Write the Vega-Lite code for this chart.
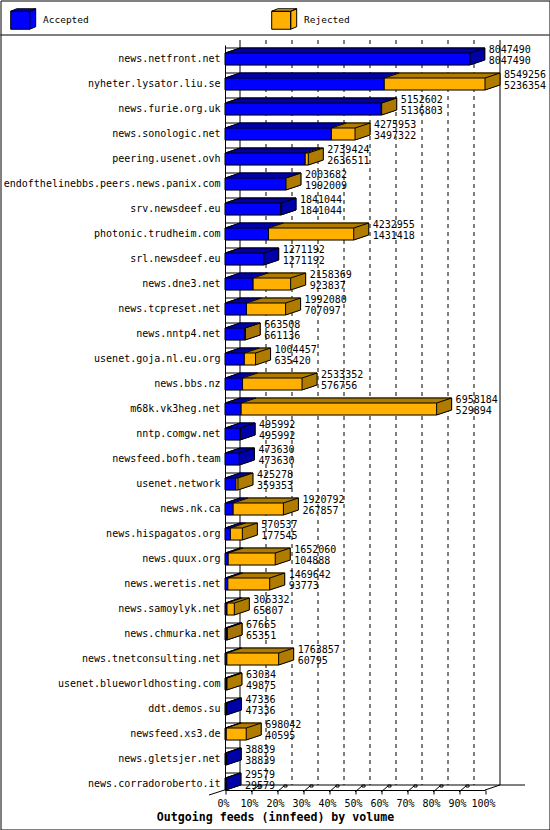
{
  "$schema": "https://vega.github.io/schema/vega-lite/v6.json",
  "width": 549,
  "height": 829,
  "autosize": "none",
  "padding": 0.5,
  "background": "white",
  "config": {"view": {"stroke": "black", "strokeWidth": 1}, "font": "DejaVu Sans Mono"},
  "resolve": {"scale": {"x": "independent", "y": "independent"}},
  "layer": [
    {
      "data": {"values": [
        {"pct": 0}, {"pct": 10}, {"pct": 20}, {"pct": 30}, {"pct": 40}, {"pct": 50},
        {"pct": 60}, {"pct": 70}, {"pct": 80}, {"pct": 90}, {"pct": 100}
      ]},
      "encoding": {
        "x": {"field": "pct", "type": "quantitative",
          "scale": {"domain": [0, 100], "range": [224.5, 484.5], "nice": false, "zero": false},
          "axis": {"orient": "bottom", "offset": -39.5, "values": [0, 10, 20, 30, 40, 50, 60, 70, 80, 90, 100],
            "labelExpr": "datum.value + '%'", "grid": false, "tickSize": 4, "tickColor": "black",
            "domainColor": "black", "labelColor": "black", "labelFont": "DejaVu Sans Mono", "labelFontSize": 10,
            "labelPadding": 4, "labelOffset": -2, "labelFlush": false, "labelOverlap": false,
            "title": "Outgoing feeds (innfeed) by volume", "titleFont": "DejaVu Sans Mono", "titleFontWeight": "bold",
            "titleFontSize": 11.6, "titleColor": "black", "titleX": 274.5, "titleY": 27,
            "titleAlign": "center", "titleBaseline": "middle"}}
      },
      "layer": [
        {
          "transform": [{"filter": "datum.pct == 0 || datum.pct == 100"}],
          "mark": {"type": "rule", "color": "black", "xOffset": 15},
          "encoding": {
            "y": {"datum": 0, "type": "quantitative", "scale": {"domain": [0, 1], "range": [39.5, 784.5], "nice": false, "zero": false}, "axis": null},
            "y2": {"datum": 1}
          }
        },
        {
          "transform": [{"filter": "datum.pct > 0 && datum.pct < 100"}],
          "mark": {"type": "rule", "color": "black", "strokeDash": [4, 4], "xOffset": 15},
          "encoding": {
            "y": {"datum": 0, "type": "quantitative", "axis": null},
            "y2": {"datum": 1}
          }
        },
        {
          "transform": [{"filter": "datum.pct == 0"}],
          "mark": {"type": "point", "shape": "M15,0H300M-16,10L15,0", "size": 4, "filled": false, "stroke": "black", "strokeWidth": 1, "opacity": 1},
          "encoding": {
            "y": {"datum": 1, "type": "quantitative", "axis": null}
          }
        },
        {
          "transform": [{"filter": "datum.pct == 0"}],
          "mark": {"type": "point", "shape": "M-224.5,-5H324.5", "size": 4, "filled": false, "stroke": "black", "strokeWidth": 1, "opacity": 1},
          "encoding": {
            "y": {"datum": 0, "type": "quantitative", "axis": null}
          }
        },
        {
          "transform": [{"filter": "datum.pct == 100"}],
          "mark": {"type": "point", "shape": "M0,5L15,0", "size": 4, "filled": false, "stroke": "black", "strokeWidth": 1, "opacity": 1},
          "encoding": {
            "y": {"datum": 1, "type": "quantitative", "axis": null}
          }
        },
        {
          "transform": [{"filter": "datum.pct > 0 && datum.pct < 100"}],
          "mark": {"type": "point", "shape": "M0,7L7,1M7,0H10V2H7Z", "size": 4, "filled": false, "stroke": "black", "strokeWidth": 1, "opacity": 1},
          "encoding": {
            "y": {"datum": 1, "type": "quantitative", "axis": null}
          }
        }
      ]
    },
    {
      "data": {"values": [
        {"host": "news.netfront.net", "offered": 8047490, "accepted": 8047490},
        {"host": "nyheter.lysator.liu.se", "offered": 8549256, "accepted": 5236354},
        {"host": "news.furie.org.uk", "offered": 5152602, "accepted": 5136803},
        {"host": "news.sonologic.net", "offered": 4275953, "accepted": 3497322},
        {"host": "peering.usenet.ovh", "offered": 2739424, "accepted": 2636511},
        {"host": "endofthelinebbs.peers.news.panix.com", "offered": 2003682, "accepted": 1992009},
        {"host": "srv.newsdeef.eu", "offered": 1841044, "accepted": 1841044},
        {"host": "photonic.trudheim.com", "offered": 4232955, "accepted": 1431418},
        {"host": "srl.newsdeef.eu", "offered": 1271192, "accepted": 1271192},
        {"host": "news.dne3.net", "offered": 2158369, "accepted": 923837},
        {"host": "news.tcpreset.net", "offered": 1992080, "accepted": 707097},
        {"host": "news.nntp4.net", "offered": 663508, "accepted": 661136},
        {"host": "usenet.goja.nl.eu.org", "offered": 1004457, "accepted": 635420},
        {"host": "news.bbs.nz", "offered": 2533352, "accepted": 576756},
        {"host": "m68k.vk3heg.net", "offered": 6958184, "accepted": 529894},
        {"host": "nntp.comgw.net", "offered": 495992, "accepted": 495992},
        {"host": "newsfeed.bofh.team", "offered": 473630, "accepted": 473630},
        {"host": "usenet.network", "offered": 425278, "accepted": 359353},
        {"host": "news.nk.ca", "offered": 1920792, "accepted": 267857},
        {"host": "news.hispagatos.org", "offered": 570537, "accepted": 177545},
        {"host": "news.quux.org", "offered": 1652060, "accepted": 104888},
        {"host": "news.weretis.net", "offered": 1469642, "accepted": 93773},
        {"host": "news.samoylyk.net", "offered": 306332, "accepted": 65807},
        {"host": "news.chmurka.net", "offered": 67665, "accepted": 65351},
        {"host": "news.tnetconsulting.net", "offered": 1763857, "accepted": 60795},
        {"host": "usenet.blueworldhosting.com", "offered": 63034, "accepted": 49875},
        {"host": "ddt.demos.su", "offered": 47336, "accepted": 47336},
        {"host": "newsfeed.xs3.de", "offered": 698042, "accepted": 40595},
        {"host": "news.gletsjer.net", "offered": 38839, "accepted": 38839},
        {"host": "news.corradoroberto.it", "offered": 29579, "accepted": 29579}
      ]},
      "encoding": {
        "y": {"field": "host", "type": "nominal", "sort": null,
          "scale": {"range": [44.5, 789.5], "paddingInner": 0.52, "paddingOuter": 0.16, "align": 1},
          "axis": {"orient": "left", "offset": -224.5, "title": null, "ticks": false, "grid": false,
            "domainColor": "black", "labelColor": "black", "labelFont": "DejaVu Sans Mono", "labelFontSize": 10,
            "labelPadding": 5, "labelLimit": 400}}
      },
      "layer": [
        {"mark": {"type": "bar", "color": "#0000a8", "stroke": "#0000a8", "strokeWidth": 1, "xOffset": 1, "x2Offset": 1, "yOffset": -0.33, "y2Offset": -0.33},
         "encoding": {"x": {"field": "accepted", "type": "quantitative", "scale": {"domain": [0, 8549256], "range": [224.5, 484.5], "nice": false, "zero": true}, "axis": null}}},
        {"mark": {"type": "bar", "color": "#0000a8", "stroke": "#0000a8", "strokeWidth": 1, "xOffset": 2, "x2Offset": 2, "yOffset": -0.67, "y2Offset": -0.67},
         "encoding": {"x": {"field": "accepted", "type": "quantitative", "axis": null}}},
        {"mark": {"type": "bar", "color": "#0000a8", "stroke": "#0000a8", "strokeWidth": 1, "xOffset": 3, "x2Offset": 3, "yOffset": -1, "y2Offset": -1},
         "encoding": {"x": {"field": "accepted", "type": "quantitative", "axis": null}}},
        {"mark": {"type": "bar", "color": "#0000a8", "stroke": "#0000a8", "strokeWidth": 1, "xOffset": 4, "x2Offset": 4, "yOffset": -1.33, "y2Offset": -1.33},
         "encoding": {"x": {"field": "accepted", "type": "quantitative", "axis": null}}},
        {"mark": {"type": "bar", "color": "#0000a8", "stroke": "#0000a8", "strokeWidth": 1, "xOffset": 5, "x2Offset": 5, "yOffset": -1.67, "y2Offset": -1.67},
         "encoding": {"x": {"field": "accepted", "type": "quantitative", "axis": null}}},
        {"mark": {"type": "bar", "color": "#0000a8", "stroke": "#0000a8", "strokeWidth": 1, "xOffset": 6, "x2Offset": 6, "yOffset": -2, "y2Offset": -2},
         "encoding": {"x": {"field": "accepted", "type": "quantitative", "axis": null}}},
        {"mark": {"type": "bar", "color": "#0000a8", "stroke": "#0000a8", "strokeWidth": 1, "xOffset": 7, "x2Offset": 7, "yOffset": -2.33, "y2Offset": -2.33},
         "encoding": {"x": {"field": "accepted", "type": "quantitative", "axis": null}}},
        {"mark": {"type": "bar", "color": "#0000a8", "stroke": "#0000a8", "strokeWidth": 1, "xOffset": 8, "x2Offset": 8, "yOffset": -2.67, "y2Offset": -2.67},
         "encoding": {"x": {"field": "accepted", "type": "quantitative", "axis": null}}},
        {"mark": {"type": "bar", "color": "#0000a8", "stroke": "#0000a8", "strokeWidth": 1, "xOffset": 9, "x2Offset": 9, "yOffset": -3, "y2Offset": -3},
         "encoding": {"x": {"field": "accepted", "type": "quantitative", "axis": null}}},
        {"mark": {"type": "bar", "color": "#0000a8", "stroke": "#0000a8", "strokeWidth": 1, "xOffset": 10, "x2Offset": 10, "yOffset": -3.33, "y2Offset": -3.33},
         "encoding": {"x": {"field": "accepted", "type": "quantitative", "axis": null}}},
        {"mark": {"type": "bar", "color": "#0000a8", "stroke": "#0000a8", "strokeWidth": 1, "xOffset": 11, "x2Offset": 11, "yOffset": -3.67, "y2Offset": -3.67},
         "encoding": {"x": {"field": "accepted", "type": "quantitative", "axis": null}}},
        {"mark": {"type": "bar", "color": "#0000a8", "stroke": "#0000a8", "strokeWidth": 1, "xOffset": 12, "x2Offset": 12, "yOffset": -4, "y2Offset": -4},
         "encoding": {"x": {"field": "accepted", "type": "quantitative", "axis": null}}},
        {"mark": {"type": "bar", "color": "#0000a8", "stroke": "#0000a8", "strokeWidth": 1, "xOffset": 13, "x2Offset": 13, "yOffset": -4.33, "y2Offset": -4.33},
         "encoding": {"x": {"field": "accepted", "type": "quantitative", "axis": null}}},
        {"mark": {"type": "bar", "color": "#0000a8", "stroke": "#0000a8", "strokeWidth": 1, "xOffset": 14, "x2Offset": 14, "yOffset": -4.67, "y2Offset": -4.67},
         "encoding": {"x": {"field": "accepted", "type": "quantitative", "axis": null}}},
        {"mark": {"type": "bar", "color": "#0000a8", "stroke": "#0000a8", "strokeWidth": 1, "xOffset": 15, "x2Offset": 15, "yOffset": -5, "y2Offset": -5},
         "encoding": {"x": {"field": "accepted", "type": "quantitative", "axis": null}}},

        {"mark": {"type": "bar", "color": "#b07c00", "stroke": "#b07c00", "strokeWidth": 1, "xOffset": 1, "x2Offset": 1, "yOffset": -0.33, "y2Offset": -0.33},
         "encoding": {"x": {"field": "accepted", "type": "quantitative", "axis": null}, "x2": {"field": "offered"}, "strokeOpacity": {"condition": {"test": "datum.offered > datum.accepted", "value": 1}, "value": 0}}},
        {"mark": {"type": "bar", "color": "#b07c00", "stroke": "#b07c00", "strokeWidth": 1, "xOffset": 2, "x2Offset": 2, "yOffset": -0.67, "y2Offset": -0.67},
         "encoding": {"x": {"field": "accepted", "type": "quantitative", "axis": null}, "x2": {"field": "offered"}, "strokeOpacity": {"condition": {"test": "datum.offered > datum.accepted", "value": 1}, "value": 0}}},
        {"mark": {"type": "bar", "color": "#b07c00", "stroke": "#b07c00", "strokeWidth": 1, "xOffset": 3, "x2Offset": 3, "yOffset": -1, "y2Offset": -1},
         "encoding": {"x": {"field": "accepted", "type": "quantitative", "axis": null}, "x2": {"field": "offered"}, "strokeOpacity": {"condition": {"test": "datum.offered > datum.accepted", "value": 1}, "value": 0}}},
        {"mark": {"type": "bar", "color": "#b07c00", "stroke": "#b07c00", "strokeWidth": 1, "xOffset": 4, "x2Offset": 4, "yOffset": -1.33, "y2Offset": -1.33},
         "encoding": {"x": {"field": "accepted", "type": "quantitative", "axis": null}, "x2": {"field": "offered"}, "strokeOpacity": {"condition": {"test": "datum.offered > datum.accepted", "value": 1}, "value": 0}}},
        {"mark": {"type": "bar", "color": "#b07c00", "stroke": "#b07c00", "strokeWidth": 1, "xOffset": 5, "x2Offset": 5, "yOffset": -1.67, "y2Offset": -1.67},
         "encoding": {"x": {"field": "accepted", "type": "quantitative", "axis": null}, "x2": {"field": "offered"}, "strokeOpacity": {"condition": {"test": "datum.offered > datum.accepted", "value": 1}, "value": 0}}},
        {"mark": {"type": "bar", "color": "#b07c00", "stroke": "#b07c00", "strokeWidth": 1, "xOffset": 6, "x2Offset": 6, "yOffset": -2, "y2Offset": -2},
         "encoding": {"x": {"field": "accepted", "type": "quantitative", "axis": null}, "x2": {"field": "offered"}, "strokeOpacity": {"condition": {"test": "datum.offered > datum.accepted", "value": 1}, "value": 0}}},
        {"mark": {"type": "bar", "color": "#b07c00", "stroke": "#b07c00", "strokeWidth": 1, "xOffset": 7, "x2Offset": 7, "yOffset": -2.33, "y2Offset": -2.33},
         "encoding": {"x": {"field": "accepted", "type": "quantitative", "axis": null}, "x2": {"field": "offered"}, "strokeOpacity": {"condition": {"test": "datum.offered > datum.accepted", "value": 1}, "value": 0}}},
        {"mark": {"type": "bar", "color": "#b07c00", "stroke": "#b07c00", "strokeWidth": 1, "xOffset": 8, "x2Offset": 8, "yOffset": -2.67, "y2Offset": -2.67},
         "encoding": {"x": {"field": "accepted", "type": "quantitative", "axis": null}, "x2": {"field": "offered"}, "strokeOpacity": {"condition": {"test": "datum.offered > datum.accepted", "value": 1}, "value": 0}}},
        {"mark": {"type": "bar", "color": "#b07c00", "stroke": "#b07c00", "strokeWidth": 1, "xOffset": 9, "x2Offset": 9, "yOffset": -3, "y2Offset": -3},
         "encoding": {"x": {"field": "accepted", "type": "quantitative", "axis": null}, "x2": {"field": "offered"}, "strokeOpacity": {"condition": {"test": "datum.offered > datum.accepted", "value": 1}, "value": 0}}},
        {"mark": {"type": "bar", "color": "#b07c00", "stroke": "#b07c00", "strokeWidth": 1, "xOffset": 10, "x2Offset": 10, "yOffset": -3.33, "y2Offset": -3.33},
         "encoding": {"x": {"field": "accepted", "type": "quantitative", "axis": null}, "x2": {"field": "offered"}, "strokeOpacity": {"condition": {"test": "datum.offered > datum.accepted", "value": 1}, "value": 0}}},
        {"mark": {"type": "bar", "color": "#b07c00", "stroke": "#b07c00", "strokeWidth": 1, "xOffset": 11, "x2Offset": 11, "yOffset": -3.67, "y2Offset": -3.67},
         "encoding": {"x": {"field": "accepted", "type": "quantitative", "axis": null}, "x2": {"field": "offered"}, "strokeOpacity": {"condition": {"test": "datum.offered > datum.accepted", "value": 1}, "value": 0}}},
        {"mark": {"type": "bar", "color": "#b07c00", "stroke": "#b07c00", "strokeWidth": 1, "xOffset": 12, "x2Offset": 12, "yOffset": -4, "y2Offset": -4},
         "encoding": {"x": {"field": "accepted", "type": "quantitative", "axis": null}, "x2": {"field": "offered"}, "strokeOpacity": {"condition": {"test": "datum.offered > datum.accepted", "value": 1}, "value": 0}}},
        {"mark": {"type": "bar", "color": "#b07c00", "stroke": "#b07c00", "strokeWidth": 1, "xOffset": 13, "x2Offset": 13, "yOffset": -4.33, "y2Offset": -4.33},
         "encoding": {"x": {"field": "accepted", "type": "quantitative", "axis": null}, "x2": {"field": "offered"}, "strokeOpacity": {"condition": {"test": "datum.offered > datum.accepted", "value": 1}, "value": 0}}},
        {"mark": {"type": "bar", "color": "#b07c00", "stroke": "#b07c00", "strokeWidth": 1, "xOffset": 14, "x2Offset": 14, "yOffset": -4.67, "y2Offset": -4.67},
         "encoding": {"x": {"field": "accepted", "type": "quantitative", "axis": null}, "x2": {"field": "offered"}, "strokeOpacity": {"condition": {"test": "datum.offered > datum.accepted", "value": 1}, "value": 0}}},
        {"mark": {"type": "bar", "color": "#b07c00", "stroke": "#b07c00", "strokeWidth": 1, "xOffset": 15, "x2Offset": 15, "yOffset": -5, "y2Offset": -5},
         "encoding": {"x": {"field": "accepted", "type": "quantitative", "axis": null}, "x2": {"field": "offered"}, "strokeOpacity": {"condition": {"test": "datum.offered > datum.accepted", "value": 1}, "value": 0}}},

        {"mark": {"type": "bar", "stroke": "black", "strokeWidth": 1, "opacity": 1},
         "encoding": {
           "x": {"field": "accepted", "type": "quantitative", "axis": null},
           "color": {"datum": "Accepted", "type": "nominal",
             "scale": {"domain": ["Accepted", "Rejected"], "range": ["#0000ff", "#ffb000"]},
             "legend": {"orient": "none", "legendX": 9.2, "legendY": 9, "direction": "horizontal", "title": null,
               "symbolType": "M-0.95,-0.9H0.95V0.9H-0.95ZM-0.95,-0.9L-0.35,-1.15H1.55L0.95,-0.9ZM0.95,-0.9L1.55,-1.15V0.65L0.95,0.9Z",
               "symbolSize": 400, "symbolStrokeColor": "black", "symbolStrokeWidth": 1, "symbolOpacity": 1,
               "labelFont": "DejaVu Sans Mono", "labelFontSize": 9.5, "labelColor": "black", "labelOffset": 12.3,
               "columnPadding": 180, "padding": 0}}
         }},
        {"mark": {"type": "bar", "stroke": "black", "strokeWidth": 1, "opacity": 1},
         "encoding": {
           "x": {"field": "accepted", "type": "quantitative", "axis": null},
           "x2": {"field": "offered"},
           "color": {"datum": "Rejected", "type": "nominal"}
         }},

        {"mark": {"type": "rule", "color": "black", "strokeWidth": 1, "xOffset": 15, "x2Offset": 15, "yOffset": -11},
         "encoding": {"x": {"field": "offered", "type": "quantitative", "axis": null}}},
        {"mark": {"type": "point", "shape": "M0,-6L15,-11", "size": 4, "filled": false, "stroke": "black", "strokeWidth": 1, "opacity": 1},
         "encoding": {"x": {"datum": 0, "type": "quantitative", "axis": null}}},
        {"mark": {"type": "point", "shape": "M0,-6L15,-11", "size": 4, "filled": false, "stroke": "black", "strokeWidth": 1},
         "encoding": {"x": {"field": "accepted", "type": "quantitative", "axis": null},
           "opacity": {"condition": {"test": "datum.offered > datum.accepted", "value": 1}, "value": 0}}},
        {"mark": {"type": "point", "shape": "M0,-6L15,-11L15,1L0,6", "size": 4, "filled": false, "stroke": "black", "strokeWidth": 1, "opacity": 1},
         "encoding": {"x": {"field": "offered", "type": "quantitative", "axis": null}}},

        {"mark": {"type": "text", "align": "left", "baseline": "middle", "xOffset": 19, "dy": -9, "font": "DejaVu Sans Mono", "fontSize": 10, "color": "black"},
         "encoding": {"x": {"field": "offered", "type": "quantitative", "axis": null}, "text": {"field": "offered", "type": "quantitative", "format": "d"}}},
        {"mark": {"type": "text", "align": "left", "baseline": "middle", "xOffset": 19, "dy": 2, "font": "DejaVu Sans Mono", "fontSize": 10, "color": "black"},
         "encoding": {"x": {"field": "offered", "type": "quantitative", "axis": null}, "text": {"field": "accepted", "type": "quantitative", "format": "d"}}}
      ]
    }
  ]
}
